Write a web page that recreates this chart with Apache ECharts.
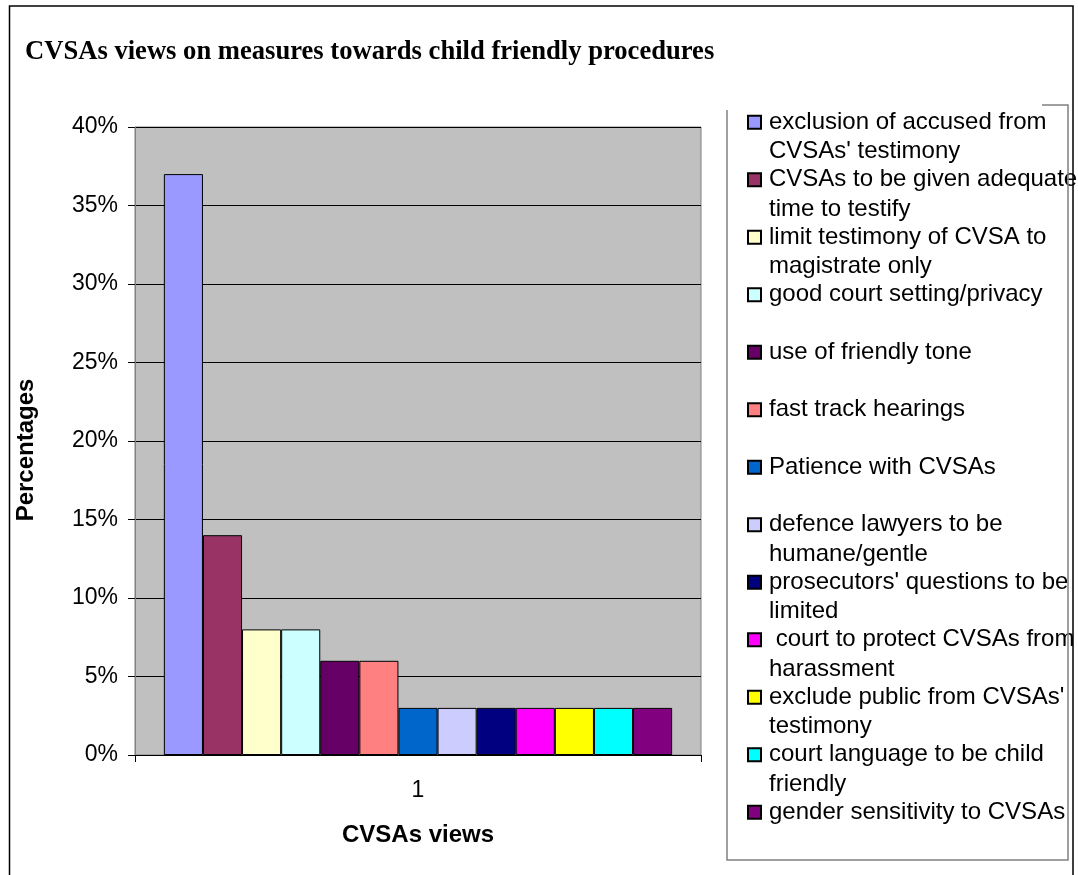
<!DOCTYPE html>
<html>
<head>
<meta charset="utf-8">
<script src="https://cdn.jsdelivr.net/npm/echarts@6/dist/echarts.min.js"></script>
<style>
html,body{margin:0;padding:0;background:#fff;}
#chart{width:1078px;height:875px;}
</style>
</head>
<body>
<div id="chart"></div>
<script>
// ---- data ----
const categories = ['1'];
const seriesNames = [
  'exclusion of accused from CVSAs\' testimony',
  'CVSAs to be given adequate time to testify',
  'limit testimony of CVSA to magistrate only',
  'good court setting/privacy',
  'use of friendly tone',
  'fast track hearings',
  'Patience with CVSAs',
  'defence lawyers to be humane/gentle',
  'prosecutors\' questions to be limited',
  ' court to protect CVSAs from harassment',
  'exclude public from CVSAs\' testimony',
  'court language to be child friendly',
  'gender sensitivity to CVSAs'
];
const legendLines = [
  ['exclusion of accused from', 'CVSAs\' testimony'],
  ['CVSAs to be given adequate', 'time to testify'],
  ['limit testimony of CVSA to', 'magistrate only'],
  ['good court setting/privacy'],
  ['use of friendly tone'],
  ['fast track hearings'],
  ['Patience with CVSAs'],
  ['defence lawyers to be', 'humane/gentle'],
  ['prosecutors\' questions to be', 'limited'],
  [' court to protect CVSAs from', 'harassment'],
  ['exclude public from CVSAs\'', 'testimony'],
  ['court language to be child', 'friendly'],
  ['gender sensitivity to CVSAs']
];
const seriesValues = [37, 14, 8, 8, 6, 6, 3, 3, 3, 3, 3, 3, 3];
const yMin = 0, yMax = 40, yStep = 5;
const titleText = 'CVSAs views on measures towards child friendly procedures';
const xName = 'CVSAs views';
const yName = 'Percentages';

// ---- styles ----
const colors = ['#9999FF','#993366','#FFFFCC','#CCFFFF','#660066','#FF8080','#0066CC',
                '#CCCCFF','#000080','#FF00FF','#FFFF00','#00FFFF','#800080'];
const FONT = 'Liberation Sans, Arial, sans-serif';
const LH = 29.5;
const NB = '\u00A0';

const labelMap = {};
seriesNames.forEach((n, i) => {
  const l = legendLines[i];
  // blank first line so that the marker (centred on the block) sits on the first text line
  labelMap[n] = [NB, l[0], l.length > 1 ? l[1] : NB].join('\n');
});

const chart = echarts.init(document.getElementById('chart'), null, {renderer: 'canvas'});
const option = {
  backgroundColor: '#ffffff',
  animation: false,
  color: colors,
  title: {
    text: titleText,
    left: 20,
    top: 34,
    textStyle: {fontFamily: 'Liberation Serif, Times New Roman, serif', fontWeight: 'bold', fontSize: 26.6, color: '#000'}
  },
  grid: {
    left: 135, right: 377, top: 127, bottom: 120,
    show: true, backgroundColor: '#C0C0C0', borderColor: '#808080', borderWidth: 1
  },
  legend: {
    orient: 'vertical',
    left: 747,
    top: 78,
    padding: 0,
    itemWidth: 13,
    itemHeight: 13,
    itemGap: -31,
    icon: 'rect',
    selectedMode: false,
    data: seriesNames,
    formatter: name => labelMap[name],
    textStyle: {fontFamily: FONT, fontSize: 24, color: '#000', lineHeight: LH, padding: [0, 0, 0, 3]}
  },
  xAxis: {
    type: 'category',
    data: categories,
    name: xName,
    nameLocation: 'middle',
    nameGap: 68,
    nameTextStyle: {fontFamily: FONT, fontSize: 24, fontWeight: 'bold', color: '#000'},
    axisLine: {show: true, lineStyle: {color: '#000', width: 1}},
    axisTick: {show: true, length: 7, alignWithLabel: false, lineStyle: {color: '#000'}},
    axisLabel: {fontFamily: FONT, fontSize: 23, color: '#000', margin: 24},
    splitLine: {show: false}
  },
  yAxis: {
    type: 'value',
    min: yMin, max: yMax, interval: yStep,
    name: yName,
    nameLocation: 'middle',
    nameGap: 97,
    nameRotate: 90,
    nameTextStyle: {fontFamily: FONT, fontSize: 24, fontWeight: 'bold', color: '#000', padding: [0, 18, 0, 0]},
    axisLine: {show: true, lineStyle: {color: '#808080', width: 1}},
    axisTick: {show: true, length: 7, lineStyle: {color: '#000'}},
    axisLabel: {fontFamily: FONT, fontSize: 23, color: '#000', margin: 17, formatter: '{value}%'},
    splitLine: {show: true, lineStyle: {color: '#000', width: 1}}
  },
  series: seriesNames.map((n, i) => ({
    name: n,
    type: 'bar',
    data: [seriesValues[i]],
    barGap: '0%',
    barCategoryGap: '10.2%',
    itemStyle: {color: colors[i], borderColor: '#000', borderWidth: 1}
  })),
  graphic: [
    {type: 'rect', shape: {x: 9.5, y: 6, width: 1063.5, height: 880}, style: {fill: null, stroke: '#000', lineWidth: 1.5}, silent: true, z: 100},
    {type: 'polyline', shape: {points: [[1042, 105], [1068, 105], [1068, 860], [727, 860], [727, 110]]}, style: {fill: null, stroke: '#808080', lineWidth: 1.5}, silent: true, z: 100}
  ]
};
chart.setOption(option);
</script>
</body>
</html>
